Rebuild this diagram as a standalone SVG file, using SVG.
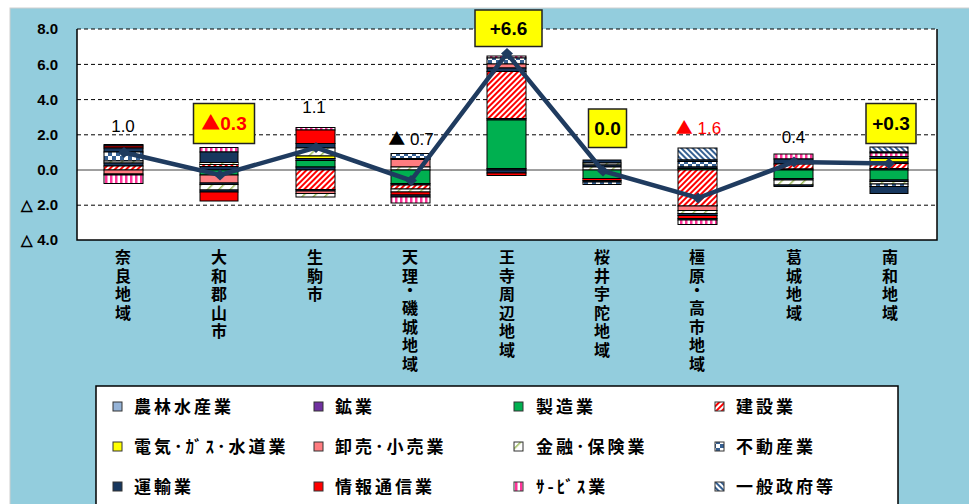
<svg xmlns="http://www.w3.org/2000/svg" width="969" height="504" viewBox="0 0 969 504">
<style>
.seg{stroke:#000;stroke-width:1}
.ax{font-family:"Liberation Sans",Arial,sans-serif;font-weight:bold;font-size:15px;fill:#000;text-anchor:end}
.cat{font-family:"Noto Sans CJK JP","Noto Sans",sans-serif;font-weight:bold;font-size:16px;fill:#000;text-anchor:middle}
.lg{font-family:"Noto Sans CJK JP","Noto Sans",sans-serif;font-weight:bold;font-size:17px;fill:#000;letter-spacing:3px}
.val{font-family:"Liberation Sans",Arial,sans-serif;font-size:17px;fill:#000;text-anchor:middle}
.tri{font-family:"Noto Sans CJK JP",sans-serif}
.box{fill:#FFFF00;stroke:#222;stroke-width:1.5}
.bv{font-family:"Liberation Sans",Arial,sans-serif;font-weight:bold;font-size:19px;text-anchor:middle;fill:#000}
text.red{fill:#FF0000}
.grid{stroke:#000;stroke-width:1;stroke-dasharray:4 3}
.lgm{stroke:#333;stroke-width:1}
.agr{fill:#95B3D7}.min{fill:#7030A0}.man{fill:#00B050}.con{fill:url(#pCon)}.utl{fill:#FFFF00}.whs{fill:#FF7C80}
.fin{fill:url(#pFin)}.rea{fill:url(#pRea)}.trn{fill:#17375E}.inf{fill:#FF0000}.srv{fill:url(#pSrv)}.gov{fill:url(#pGov)}
</style>
<defs>
<pattern id="pCon" width="4" height="4" patternUnits="userSpaceOnUse" patternTransform="rotate(45)"><rect width="4" height="4" fill="#fff"/><rect width="2" height="4" fill="#FF0000"/></pattern>
<pattern id="pGov" width="4" height="4" patternUnits="userSpaceOnUse" patternTransform="rotate(-45)"><rect width="4" height="4" fill="#fff"/><rect width="2" height="4" fill="#366092"/></pattern>
<pattern id="pFin" width="8" height="8" patternUnits="userSpaceOnUse" patternTransform="rotate(45)"><rect width="8" height="8" fill="#fff"/><rect width="1.5" height="8" fill="#9BBB59"/></pattern>
<pattern id="pRea" width="8" height="8" patternUnits="userSpaceOnUse"><rect width="8" height="8" fill="#366092"/><rect width="4" height="4" fill="#fff"/><rect x="4" y="4" width="4" height="4" fill="#fff"/></pattern>
<pattern id="pSrv" width="5" height="5" patternUnits="userSpaceOnUse"><rect width="5" height="5" fill="#fff"/><rect width="2.5" height="5" fill="#FF3399"/></pattern>
</defs>

<rect x="10" y="8" width="970" height="510" fill="#93CDDD" stroke="#D0D0D0" stroke-width="1"/>

<g id="plot">
<rect x="77" y="29" width="860" height="211" fill="#fff"/>
<line class="grid" x1="77" y1="29" x2="937" y2="29"/>
<line class="grid" x1="77" y1="64.4" x2="937" y2="64.4"/>
<line class="grid" x1="77" y1="99.6" x2="937" y2="99.6"/>
<line class="grid" x1="77" y1="134.8" x2="937" y2="134.8"/>
<line class="grid" x1="77" y1="205.2" x2="937" y2="205.2"/>
<line x1="77" y1="170" x2="937" y2="170" stroke="#404040" stroke-width="1"/>
<path d="M77 29V240H937V29" fill="none" stroke="#000" stroke-width="1.5"/>
</g>

<g id="yaxis">
<text class="ax" x="58" y="34">8.0</text>
<text class="ax" x="58" y="69.5">6.0</text>
<text class="ax" x="58" y="104.5">4.0</text>
<text class="ax" x="58" y="140">2.0</text>
<text class="ax" x="58" y="175">0.0</text>
<text class="ax" x="58" y="210">△ 2.0</text>
<text class="ax" x="58" y="245">△ 4.0</text>
</g>

<g id="bar-nara">
<rect class="seg trn" x="104" y="144.5" width="39" height="1.5"/>
<rect class="seg inf" x="104" y="146" width="39" height="2"/>
<rect class="seg trn" x="104" y="148" width="39" height="4"/>
<rect class="seg rea" x="104" y="152" width="39" height="9"/>
<rect class="seg fin" x="104" y="161" width="39" height="2"/>
<rect class="seg trn" x="104" y="163" width="39" height="3"/>
<rect class="seg con" x="104" y="166" width="39" height="4"/>
<rect class="seg whs" x="104" y="170" width="39" height="4"/>
<rect class="seg fin" x="104" y="174" width="39" height="1"/>
<rect class="seg srv" x="104" y="175" width="39" height="8.5"/>
</g>
<g id="bar-yamatokoriyama">
<rect class="seg srv" x="200" y="147.5" width="38" height="4.5"/>
<rect class="seg trn" x="200" y="152" width="38" height="10.5"/>
<rect class="seg fin" x="200" y="162.5" width="38" height="2"/>
<rect class="seg con" x="200" y="164.5" width="38" height="2"/>
<rect class="seg trn" x="200" y="166.5" width="38" height="3.5"/>
<rect class="seg man" x="200" y="170" width="38" height="5"/>
<rect class="seg whs" x="200" y="175" width="38" height="8"/>
<rect class="seg trn" x="200" y="183" width="38" height="1.5"/>
<rect class="seg fin" x="200" y="184.5" width="38" height="5.5"/>
<rect class="seg trn" x="200" y="190" width="38" height="2"/>
<rect class="seg inf" x="200" y="192" width="38" height="9"/>
</g>
<g id="bar-ikoma">
<rect class="seg srv" x="296" y="127.5" width="39" height="2.5"/>
<rect class="seg inf" x="296" y="130" width="39" height="13.5"/>
<rect class="seg trn" x="296" y="143.5" width="39" height="4.5"/>
<rect class="seg fin" x="296" y="148" width="39" height="8"/>
<rect class="seg utl" x="296" y="156" width="39" height="2.5"/>
<rect class="seg trn" x="296" y="158.5" width="39" height="2"/>
<rect class="seg man" x="296" y="160.5" width="39" height="6.5"/>
<rect class="seg trn" x="296" y="167" width="39" height="3"/>
<rect class="seg con" x="296" y="170" width="39" height="19.5"/>
<rect class="seg trn" x="296" y="189.5" width="39" height="1.5"/>
<rect class="seg whs" x="296" y="191" width="39" height="2.5"/>
<rect class="seg fin" x="296" y="193.5" width="39" height="3.5"/>
</g>
<g id="bar-tenri">
<rect class="seg rea" x="391" y="153.5" width="39" height="5"/>
<rect class="seg trn" x="391" y="158.5" width="39" height="1"/>
<rect class="seg whs" x="391" y="159.5" width="39" height="7.5"/>
<rect class="seg fin" x="391" y="167" width="39" height="3"/>
<rect class="seg man" x="391" y="170" width="39" height="13.5"/>
<rect class="seg trn" x="391" y="183.5" width="39" height="1.5"/>
<rect class="seg con" x="391" y="185" width="39" height="4"/>
<rect class="seg fin" x="391" y="189" width="39" height="3"/>
<rect class="seg inf" x="391" y="192" width="39" height="3"/>
<rect class="seg trn" x="391" y="195" width="39" height="2"/>
<rect class="seg srv" x="391" y="197" width="39" height="6"/>
</g>
<g id="bar-oji">
<rect class="seg srv" x="487" y="56" width="39" height="2"/>
<rect class="seg rea" x="487" y="58" width="39" height="6"/>
<rect class="seg whs" x="487" y="64" width="39" height="4"/>
<rect class="seg trn" x="487" y="68" width="39" height="3.5"/>
<rect class="seg con" x="487" y="71.5" width="39" height="47"/>
<rect class="seg trn" x="487" y="118.5" width="39" height="1.5"/>
<rect class="seg man" x="487" y="120" width="39" height="48.5"/>
<rect class="seg trn" x="487" y="168.5" width="39" height="1.5"/>
<rect class="seg trn" x="487" y="170" width="39" height="3"/>
<rect class="seg inf" x="487" y="173" width="39" height="2.5"/>
</g>
<g id="bar-sakurai">
<rect class="seg trn" x="583" y="160" width="38" height="3"/>
<rect class="seg fin" x="583" y="163" width="38" height="2"/>
<rect class="seg trn" x="583" y="165" width="38" height="2"/>
<rect class="seg fin" x="583" y="167" width="38" height="3"/>
<rect class="seg man" x="583" y="170" width="38" height="8.5"/>
<rect class="seg inf" x="583" y="178.5" width="38" height="2"/>
<rect class="seg trn" x="583" y="180.5" width="38" height="1.5"/>
<rect class="seg rea" x="583" y="182" width="38" height="2.5"/>
</g>
<g id="bar-kashihara">
<rect class="seg gov" x="678" y="148" width="39" height="12"/>
<rect class="seg trn" x="678" y="160" width="39" height="1.5"/>
<rect class="seg rea" x="678" y="161.5" width="39" height="5.5"/>
<rect class="seg trn" x="678" y="167" width="39" height="1.5"/>
<rect class="seg man" x="678" y="168.5" width="39" height="1.5"/>
<rect class="seg con" x="678" y="170" width="39" height="36"/>
<rect class="seg whs" x="678" y="206" width="39" height="4.5"/>
<rect class="seg fin" x="678" y="210.5" width="39" height="3"/>
<rect class="seg trn" x="678" y="213.5" width="39" height="2"/>
<rect class="seg inf" x="678" y="215.5" width="39" height="3"/>
<rect class="seg trn" x="678" y="218.5" width="39" height="1.5"/>
<rect class="seg srv" x="678" y="220" width="39" height="4.5"/>
</g>
<g id="bar-katsuragi">
<rect class="seg srv" x="774" y="154" width="39" height="5"/>
<rect class="seg trn" x="774" y="159" width="39" height="5"/>
<rect class="seg con" x="774" y="164" width="39" height="5"/>
<rect class="seg trn" x="774" y="169" width="39" height="1"/>
<rect class="seg man" x="774" y="170" width="39" height="8.5"/>
<rect class="seg trn" x="774" y="178.5" width="39" height="1.5"/>
<rect class="seg fin" x="774" y="180" width="39" height="5"/>
<rect class="seg trn" x="774" y="185" width="39" height="1.5"/>
</g>
<g id="bar-nanwa">
<rect class="seg gov" x="870" y="147" width="38" height="5"/>
<rect class="seg trn" x="870" y="152" width="38" height="1"/>
<rect class="seg srv" x="870" y="153" width="38" height="3.5"/>
<rect class="seg trn" x="870" y="156.5" width="38" height="2"/>
<rect class="seg utl" x="870" y="158.5" width="38" height="3.5"/>
<rect class="seg trn" x="870" y="162" width="38" height="1.5"/>
<rect class="seg con" x="870" y="163.5" width="38" height="5"/>
<rect class="seg trn" x="870" y="168.5" width="38" height="1.5"/>
<rect class="seg man" x="870" y="170" width="38" height="10"/>
<rect class="seg trn" x="870" y="180" width="38" height="1.5"/>
<rect class="seg fin" x="870" y="181.5" width="38" height="2.5"/>
<rect class="seg rea" x="870" y="184" width="38" height="2.5"/>
<rect class="seg trn" x="870" y="186.5" width="38" height="7"/>
</g>

<g id="connectors">
<polyline points="124,152.5 220,175 316,147.5 411,180.5 507,53.5 603,171 698,198 794,162 889,163.5" fill="none" stroke="#1F3B5F" stroke-width="4.5" stroke-linejoin="miter"/>
<g fill="#1F3B5F">
<path d="M124 147l6 5.5-6 5.5-6-5.5z"/>
<path d="M220 169.5l6 5.5-6 5.5-6-5.5z"/>
<path d="M316 142l6 5.5-6 5.5-6-5.5z"/>
<path d="M411 175l6 5.5-6 5.5-6-5.5z"/>
<path d="M507 48l6 5.5-6 5.5-6-5.5z"/>
<path d="M603 165.5l6 5.5-6 5.5-6-5.5z"/>
<path d="M698 192.5l6 5.5-6 5.5-6-5.5z"/>
<path d="M794 156.5l6 5.5-6 5.5-6-5.5z"/>
<path d="M889 158l6 5.5-6 5.5-6-5.5z"/>
</g>
</g>

<g id="labels">
<text class="val" x="123" y="132">1.0</text>
<g id="lbl-yamato"><rect class="box" x="193.5" y="103.5" width="61" height="40"/><text class="bv red" x="224" y="130"><tspan class="tri">▲</tspan>0.3</text></g>
<text class="val" x="314" y="113">1.1</text>
<text class="val" x="411" y="144.5"><tspan class="tri">▲</tspan> 0.7</text>
<g id="lbl-oji"><rect class="box" x="475" y="10" width="67" height="36.5"/><text class="bv" x="508.5" y="35">+6.6</text></g>
<g id="lbl-sakurai"><rect class="box" x="588.5" y="109" width="38" height="38.5"/><text class="bv" x="607.5" y="135">0.0</text></g>
<text class="val red" x="698.5" y="134"><tspan class="tri">▲</tspan> 1.6</text>
<text class="val" x="793.5" y="143">0.4</text>
<g id="lbl-nanwa"><rect class="box" x="866" y="103.5" width="50" height="40"/><text class="bv" x="891" y="130">+0.3</text></g>
</g>

<g id="categories">
<text class="cat"><tspan x="123" y="263">奈</tspan><tspan x="123" y="281.5">良</tspan><tspan x="123" y="300">地</tspan><tspan x="123" y="318.5">域</tspan></text>
<text class="cat"><tspan x="219" y="263">大</tspan><tspan x="219" y="281.5">和</tspan><tspan x="219" y="300">郡</tspan><tspan x="219" y="318.5">山</tspan><tspan x="219" y="337">市</tspan></text>
<text class="cat"><tspan x="315" y="263">生</tspan><tspan x="315" y="281.5">駒</tspan><tspan x="315" y="300">市</tspan></text>
<text class="cat"><tspan x="410" y="263">天</tspan><tspan x="410" y="281.5">理</tspan><tspan x="410" y="295.5">・</tspan><tspan x="410" y="314">磯</tspan><tspan x="410" y="332.5">城</tspan><tspan x="410" y="351">地</tspan><tspan x="410" y="369.5">域</tspan></text>
<text class="cat"><tspan x="507" y="263">王</tspan><tspan x="507" y="281.5">寺</tspan><tspan x="507" y="300">周</tspan><tspan x="507" y="318.5">辺</tspan><tspan x="507" y="337">地</tspan><tspan x="507" y="355.5">域</tspan></text>
<text class="cat"><tspan x="602" y="263">桜</tspan><tspan x="602" y="281.5">井</tspan><tspan x="602" y="300">宇</tspan><tspan x="602" y="318.5">陀</tspan><tspan x="602" y="337">地</tspan><tspan x="602" y="355.5">域</tspan></text>
<text class="cat"><tspan x="697" y="263">橿</tspan><tspan x="697" y="281.5">原</tspan><tspan x="697" y="295.5">・</tspan><tspan x="697" y="314">高</tspan><tspan x="697" y="332.5">市</tspan><tspan x="697" y="351">地</tspan><tspan x="697" y="369.5">域</tspan></text>
<text class="cat"><tspan x="794" y="263">葛</tspan><tspan x="794" y="281.5">城</tspan><tspan x="794" y="300">地</tspan><tspan x="794" y="318.5">域</tspan></text>
<text class="cat"><tspan x="890" y="263">南</tspan><tspan x="890" y="281.5">和</tspan><tspan x="890" y="300">地</tspan><tspan x="890" y="318.5">域</tspan></text>
</g>

<g id="legend">
<rect x="96" y="386" width="802" height="130" fill="#fff" stroke="#000" stroke-width="1.5"/>
<rect class="lgm agr" x="113" y="402" width="9" height="9"/><text class="lg" x="134" y="413">農林水産業</text>
<rect class="lgm min" x="314" y="402" width="9" height="9"/><text class="lg" x="335" y="413">鉱業</text>
<rect class="lgm man" x="514" y="402" width="9" height="9"/><text class="lg" x="536" y="413">製造業</text>
<rect class="lgm con" x="715" y="402" width="9" height="9"/><text class="lg" x="736" y="413">建設業</text>
<rect class="lgm utl" x="113" y="442" width="9" height="9"/><text class="lg" x="134" y="453">電気･ｶﾞｽ･水道業</text>
<rect class="lgm whs" x="314" y="442" width="9" height="9"/><text class="lg" x="335" y="453">卸売･小売業</text>
<rect class="lgm fin" x="514" y="442" width="9" height="9"/><text class="lg" x="536" y="453">金融･保険業</text>
<rect class="lgm rea" x="715" y="442" width="9" height="9"/><text class="lg" x="736" y="453">不動産業</text>
<rect class="lgm trn" x="113" y="482" width="9" height="9"/><text class="lg" x="134" y="493">運輸業</text>
<rect class="lgm inf" x="314" y="482" width="9" height="9"/><text class="lg" x="335" y="493">情報通信業</text>
<rect class="lgm srv" x="514" y="482" width="9" height="9"/><text class="lg" x="536" y="493">ｻ-ﾋﾞｽ業</text>
<rect class="lgm gov" x="715" y="482" width="9" height="9"/><text class="lg" x="736" y="493">一般政府等</text>
</g>
</svg>
